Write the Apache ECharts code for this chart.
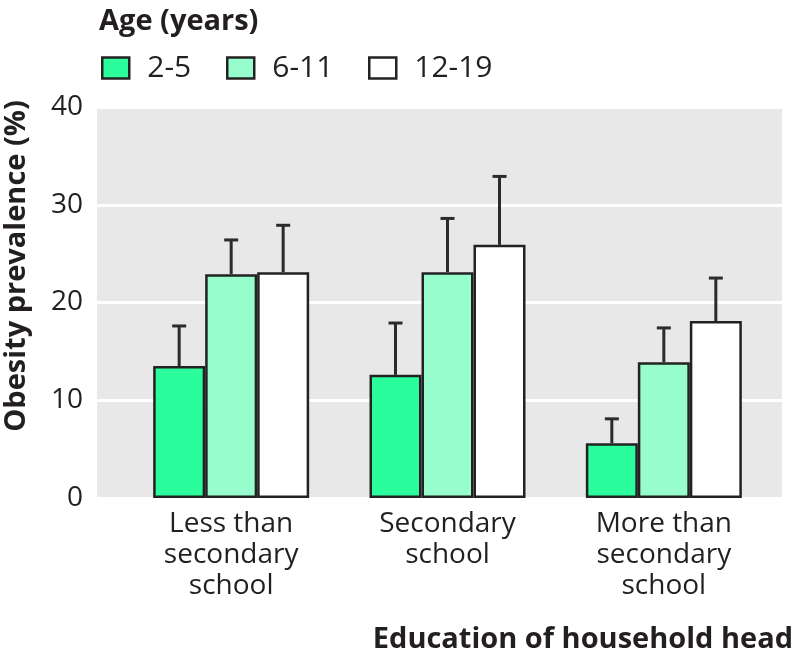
<!DOCTYPE html>
<html>
<head>
<meta charset="utf-8">
<script src="https://cdn.jsdelivr.net/npm/echarts@6/dist/echarts.min.js"></script>
<style>
html,body{margin:0;padding:0;background:#fff;}
#chart{width:802px;height:665px;}
</style>
</head>
<body>
<div id="chart"></div>
<script>
// ---- data ----
var categories = ['Less than\nsecondary\nschool', 'Secondary\nschool', 'More than\nsecondary\nschool'];
var seriesNames = ['2-5', '6-11', '12-19'];
var age2to5 = [13.5, 12.6, 5.6];
var age6to11 = [22.9, 23.1, 13.9];
var age12to19 = [23.1, 25.9, 18.1];
var upper2to5 = [17.6, 17.9, 8.1];
var upper6to11 = [26.4, 28.6, 17.4];
var upper12to19 = [27.9, 32.9, 22.5];
var yTicks = [0, 10, 20, 30, 40];

var FONT = '"Open Sans", sans-serif';
var TXT = '#231f20';
var BAR_W = 52;
var colors = ['#2cfd9c', '#97fdcd', '#ffffff'];
var values = [age2to5, age6to11, age12to19];
var uppers = [upper2to5, upper6to11, upper12to19];

var chart = echarts.init(document.getElementById('chart'), null, {renderer: 'canvas'});

var series = [];
seriesNames.forEach(function (name, i) {
  series.push({
    name: name,
    type: 'bar',
    xAxisIndex: 1,
    yAxisIndex: 1,
    data: values[i],
    barWidth: BAR_W,
    barGap: '0%',
    itemStyle: {color: colors[i], borderColor: '#222', borderWidth: 2.5},
    emphasis: {disabled: true},
    z: 3
  });
});
seriesNames.forEach(function (name, i) {
  var data = values[i].map(function (v, k) { return [k, v, uppers[i][k]]; });
  series.push({
    type: 'custom',
    xAxisIndex: 1,
    yAxisIndex: 1,
    data: data,
    z: 4,
    silent: true,
    renderItem: function (params, api) {
      var c = api.value(0);
      var top = api.coord([c, api.value(1)]);
      var up = api.coord([c, api.value(2)]);
      var x = top[0] + (i - 1) * BAR_W;
      var style = {stroke: '#2b2b2b', lineWidth: 3, fill: null};
      return {
        type: 'group',
        children: [
          {type: 'line', shape: {x1: x, y1: top[1], x2: x, y2: up[1]}, style: style},
          {type: 'line', shape: {x1: x - 7, y1: up[1], x2: x + 7, y2: up[1]}, style: style}
        ]
      };
    }
  });
});

function legendFor(name, left) {
  return {
    data: [name],
    left: left,
    top: 48,
    itemWidth: 27,
    itemHeight: 21,
    selectedMode: false,
    icon: 'rect',
    itemStyle: {borderColor: '#222', borderWidth: 2.5},
    textStyle: {fontFamily: FONT, fontSize: 30, lineHeight: 21, color: TXT, padding: [0, 0, 0, 13]}
  };
}

var option = {
  animation: false,
  backgroundColor: '#ffffff',
  title: [
    {text: 'Age (years)', left: 94, top: 2,
     textStyle: {fontFamily: FONT, fontSize: 29, fontWeight: 'bold', color: TXT}},
    {text: 'Education of household head', right: 4, top: 620,
     textStyle: {fontFamily: FONT, fontSize: 29, fontWeight: 'bold', color: TXT}}
  ],
  legend: [legendFor('2-5', 96), legendFor('6-11', 221), legendFor('12-19', 363)],
  graphic: [
    {type: 'text', x: 17, y: 266, rotation: Math.PI / 2,
     style: {text: 'Obesity prevalence (%)', fontFamily: FONT, fontSize: 29, fontWeight: 'bold',
             fill: TXT, align: 'center', verticalAlign: 'middle'}}
  ],
  grid: [
    {left: 97, right: 20, top: 107, bottom: 167, show: true, backgroundColor: '#e8e8e8', borderWidth: 0},
    {left: 123, right: 30, top: 107, bottom: 167}
  ],
  xAxis: [
    {type: 'value', gridIndex: 0, show: false, min: 0, max: 1},
    {type: 'category', gridIndex: 1, data: categories,
     axisLine: {show: false}, axisTick: {show: false},
     axisLabel: {fontFamily: FONT, fontSize: 28, lineHeight: 31, color: TXT, margin: 11}}
  ],
  yAxis: [
    {type: 'value', gridIndex: 0, min: yTicks[0], max: yTicks[yTicks.length - 1], interval: 10,
     axisLine: {show: false}, axisTick: {show: false},
     axisLabel: {fontFamily: FONT, fontSize: 28, color: TXT, margin: 14},
     splitLine: {show: true, lineStyle: {color: '#ffffff', width: 3}}},
    {type: 'value', gridIndex: 1, min: yTicks[0], max: yTicks[yTicks.length - 1], show: false}
  ],
  series: series
};
chart.setOption(option);
</script>
</body>
</html>
